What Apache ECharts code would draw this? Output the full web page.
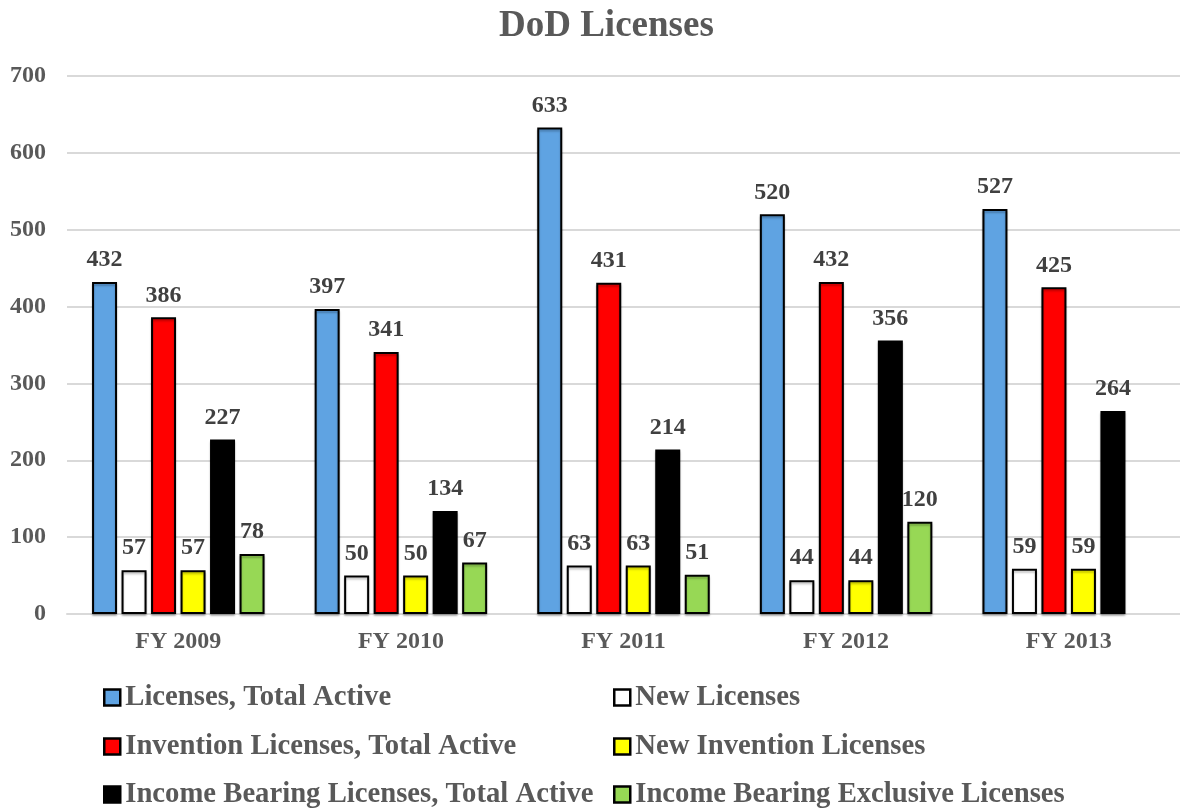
<!DOCTYPE html>
<html>
<head>
<meta charset="utf-8">
<script src="https://cdn.jsdelivr.net/npm/echarts@6/dist/echarts.min.js"></script>
<style>html,body{margin:0;padding:0;background:#fff}#chart{width:1180px;height:808px}</style>
</head>
<body>
<div id="chart"></div>
<script>
var categories = ['FY 2009', 'FY 2010', 'FY 2011', 'FY 2012', 'FY 2013'];
var licensesTotalActive = [432, 397, 633, 520, 527];
var newLicenses = [57, 50, 63, 44, 59];
var inventionTotalActive = [386, 341, 431, 432, 425];
var newInventionLicenses = [57, 50, 63, 44, 59];
var incomeBearingTotalActive = [227, 134, 214, 356, 264];
var incomeBearingExclusive = [78, 67, 51, 120, null];
var yTicks = [0, 100, 200, 300, 400, 500, 600, 700];

var FONT = "'Liberation Serif', 'Times New Roman', serif";
var GRAY = '#595959';

var seriesDefs = [
  { name: 'Licenses, Total Active', data: licensesTotalActive, color: '#5fa3e2' },
  { name: 'New Licenses', data: newLicenses, color: '#ffffff' },
  { name: 'Invention Licenses, Total Active', data: inventionTotalActive, color: '#ff0000' },
  { name: 'New Invention Licenses', data: newInventionLicenses, color: '#ffff00' },
  { name: 'Income Bearing Licenses, Total Active', data: incomeBearingTotalActive, color: '#000000' },
  { name: 'Income Bearing Exclusive Licenses', data: incomeBearingExclusive, color: '#97d855' }
];

var legendText = { fontFamily: FONT, fontWeight: 'bold', fontSize: 28.7, color: GRAY, lineHeight: 28 };
var legendCols = [103, 613];
var legendRows = [683, 732, 780];

var legends = seriesDefs.map(function (s, i) {
  return {
    orient: 'horizontal',
    left: legendCols[i % 2],
    top: legendRows[Math.floor(i / 2)],
    itemWidth: 16, itemHeight: 16, icon: 'rect',
    itemStyle: { borderColor: '#000', borderWidth: 2.5 },
    padding: 0,
    textStyle: legendText,
    data: [s.name]
  };
});

var option = {
  animation: false,
  title: {
    text: 'DoD Licenses',
    left: 494,
    top: 3,
    textStyle: { fontFamily: FONT, fontWeight: 'bold', fontSize: 37, color: GRAY }
  },
  legend: legends,
  grid: { left: 67, right: -7, top: 76, bottom: 194, containLabel: false },
  xAxis: {
    type: 'category',
    data: categories,
    axisTick: { show: false },
    axisLine: { lineStyle: { color: '#d9d9d9', width: 2 } },
    axisLabel: { fontFamily: FONT, fontWeight: 'bold', fontSize: 24, color: GRAY, margin: 16 }
  },
  yAxis: {
    type: 'value',
    min: yTicks[0],
    max: yTicks[yTicks.length - 1],
    interval: yTicks[1] - yTicks[0],
    axisLine: { show: false },
    axisTick: { show: false },
    splitLine: { lineStyle: { color: '#d9d9d9', width: 2 } },
    axisLabel: { fontFamily: FONT, fontWeight: 'bold', fontSize: 24, color: GRAY, margin: 21 }
  },
  series: seriesDefs.map(function (s) {
    return {
      type: 'bar',
      name: s.name,
      data: s.data,
      barWidth: 25,
      barGap: '18%',
      itemStyle: {
        color: s.color,
        borderColor: '#000',
        borderWidth: 2,
        shadowColor: 'rgba(0,0,0,0.25)',
        shadowOffsetY: 2,
        shadowBlur: 2
      },
      label: {
        show: true,
        position: 'top',
        distance: 10,
        fontFamily: FONT,
        fontWeight: 'bold',
        fontSize: 24,
        color: '#404040'
      }
    };
  })
};

var chart = echarts.init(document.getElementById('chart'));
chart.setOption(option);
</script>
</body>
</html>
